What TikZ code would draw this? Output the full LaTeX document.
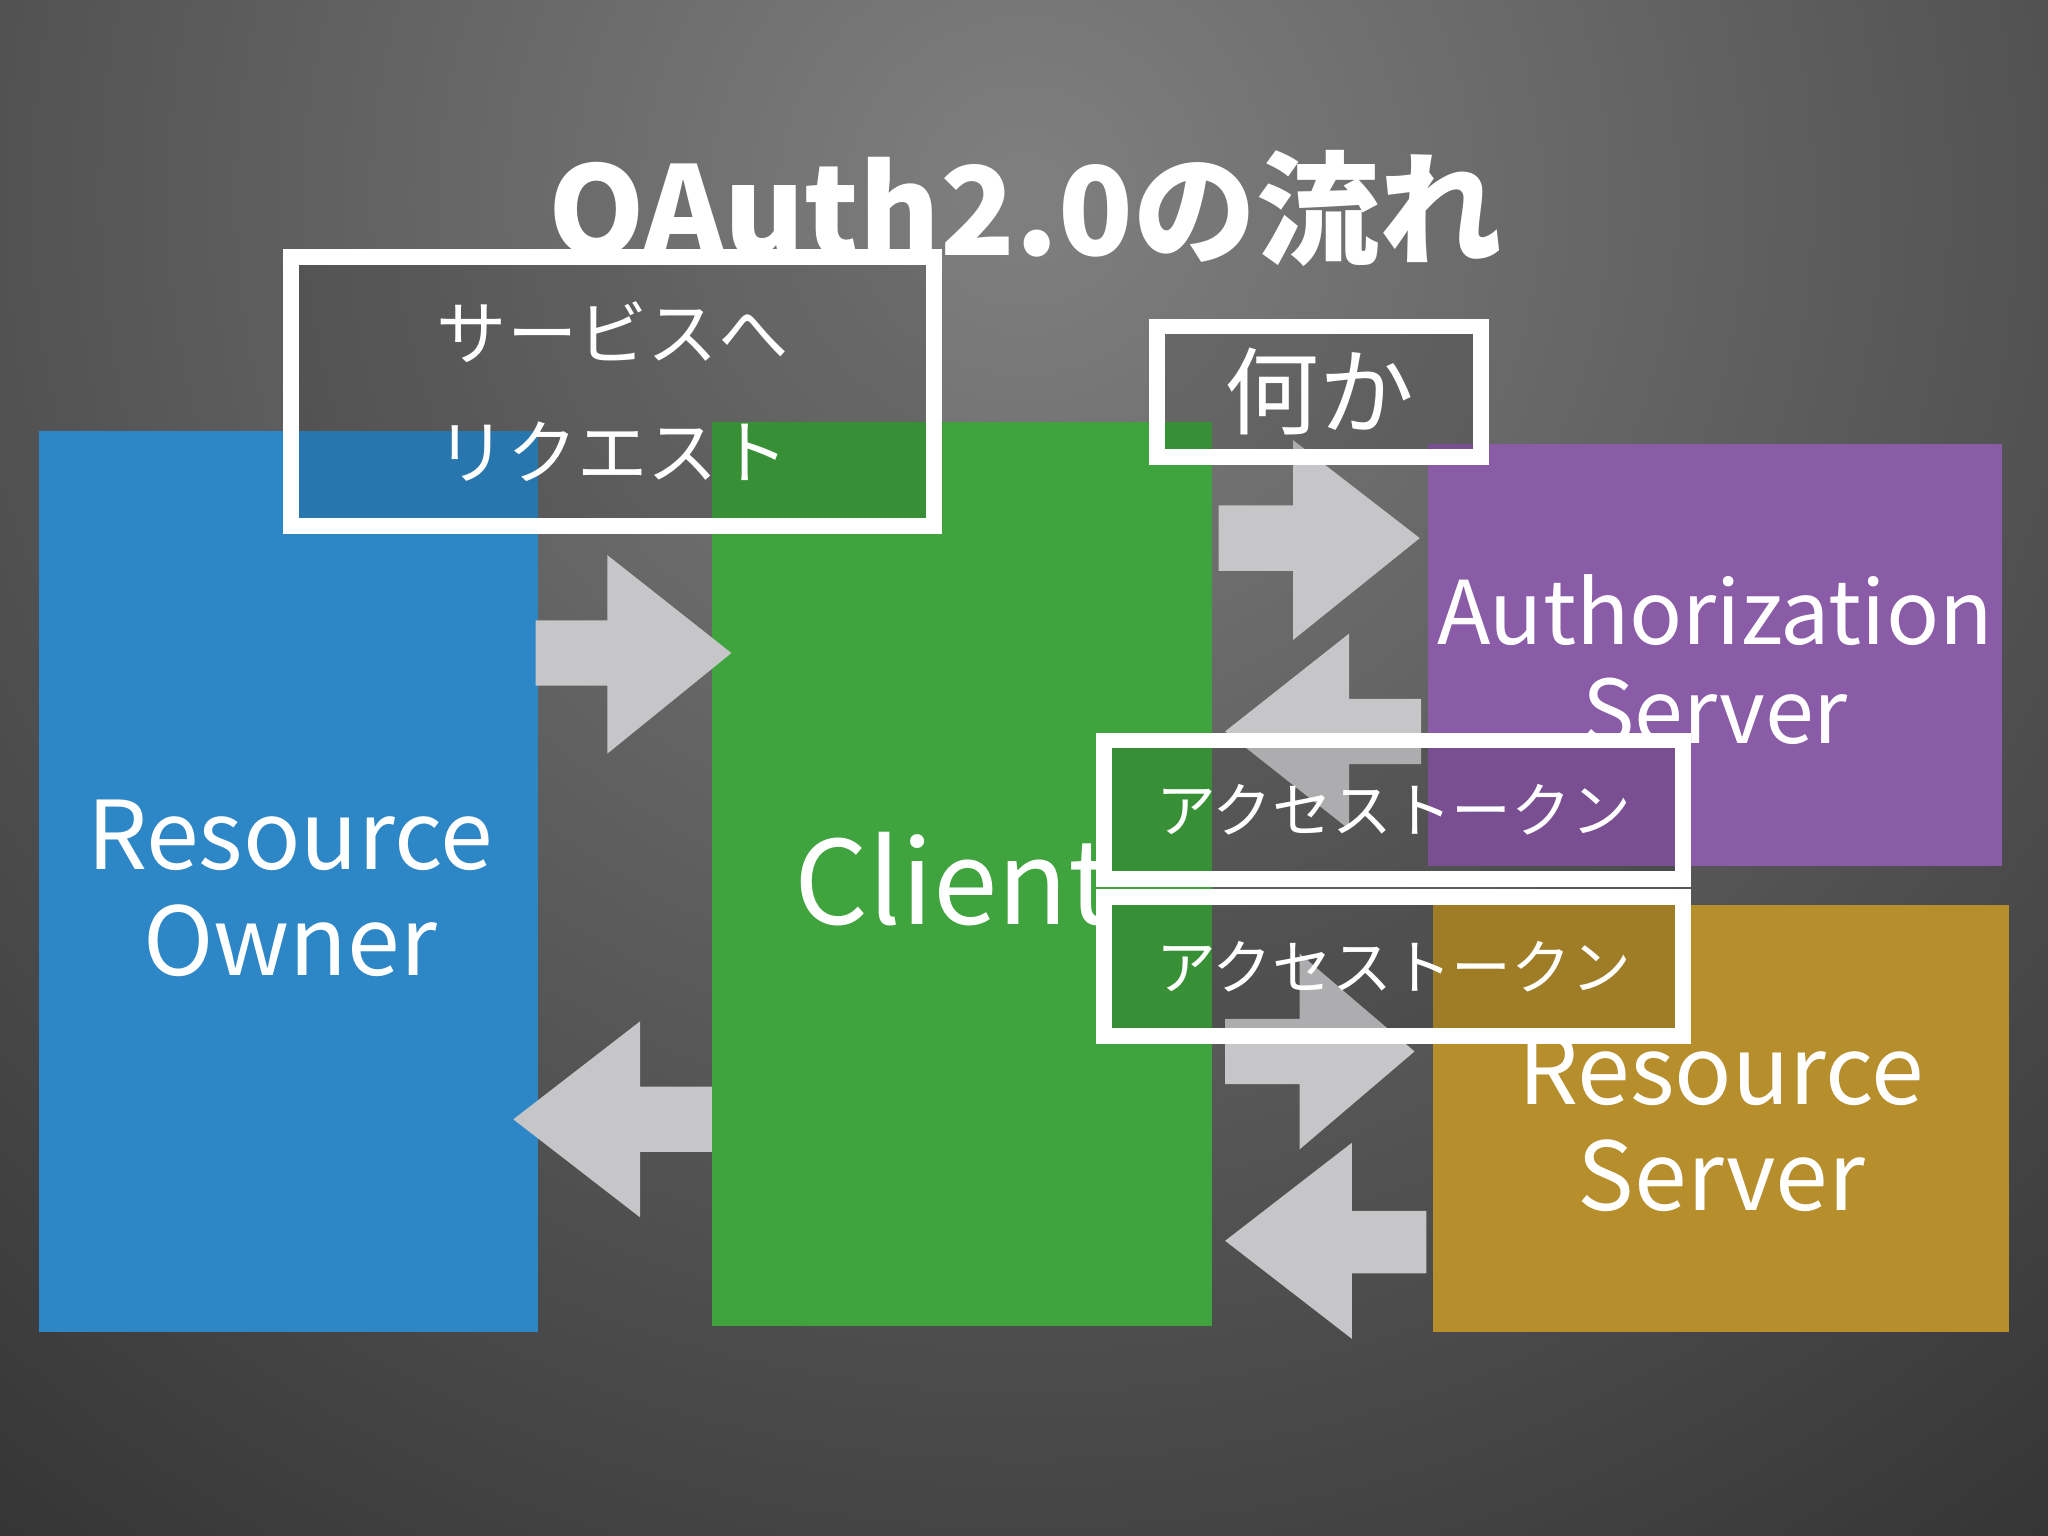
\documentclass[tikz,border=0pt]{standalone}
\usepackage{fontspec}
\setmainfont{Noto Sans CJK JP}
\definecolor{ro}{HTML}{2D87C6}
\definecolor{cl}{HTML}{3FA33E}
\definecolor{as}{HTML}{8A5BA6}
\definecolor{rs}{HTML}{B68E2C}
\definecolor{ar}{HTML}{C6C6C8}
\begin{document}
\begin{tikzpicture}[x=0.013061cm,y=-0.013061cm,
  lbl/.style={text=white,align=center,font=\fontsize{27}{31}\selectfont},
  arr/.style={fill=ar,draw=none},
  frame/.style={draw=white,line width=4.5pt,fill=black,fill opacity=0.12,text opacity=1}]
\useasboundingbox (0,0) rectangle (1568,1176);
\shade[shading=radial,inner color=black!50,outer color=black!84] (784-1500,150-1500) rectangle (784+1500,150+1500);
\node[text=white,font=\fontsize{35}{40}\selectfont\bfseries] (title) at (785,160) {OAuth2.0の流れ};
\fill[ro] (30,330) rectangle (412,1020);
\fill[cl] (545,323) rectangle (928,1015);
\fill[as] (1093,340) rectangle (1533,663);
\fill[rs] (1097,693) rectangle (1538,1020);
\node[lbl] (ro) at (222,680) {Resource\\[-1pt]Owner};
\node[lbl,font=\fontsize{33}{36}\selectfont] (cli) at (730,673) {Client};
\node[lbl,font=\fontsize{25}{29}\selectfont] (as) at (1313,505) {Authorization\\[-1pt]Server};
\node[lbl] (rs) at (1318,860) {Resource\\[-1pt]Server};
% arrows
\fill[arr] (410,475) -- (465,475) -- (465,425) -- (560,500) -- (465,577) -- (465,525) -- (410,525) -- cycle;
\fill[arr] (545,832) -- (490,832) -- (490,782) -- (393,857) -- (490,932) -- (490,882) -- (545,882) -- cycle;
\fill[arr] (933,387) -- (990,387) -- (990,337) -- (1087,412) -- (990,490) -- (990,437) -- (933,437) -- cycle;
\fill[arr] (1088,535) -- (1033,535) -- (1033,485) -- (938,560) -- (1033,635) -- (1033,585) -- (1088,585) -- cycle;
\fill[arr] (938,780) -- (995,780) -- (995,730) -- (1083,805) -- (995,880) -- (995,830) -- (938,830) -- cycle;
\fill[arr] (1092,927) -- (1035,927) -- (1035,875) -- (938,950) -- (1035,1025) -- (1035,975) -- (1092,975) -- cycle;
% label frames
\node[frame,minimum width=492*0.013061cm,minimum height=206*0.013061cm,align=center,text=white,font=\fontsize{20}{34}\selectfont] (req) at (469,300) {サービスへ\\リクエスト};
\node[frame,minimum width=248*0.013061cm,minimum height=100*0.013061cm,text=white,font=\fontsize{27}{30}\selectfont] (nan) at (1010,300) {何か};
\node[frame,minimum width=443*0.013061cm,minimum height=106*0.013061cm,text=white,font=\fontsize{17}{20}\selectfont] (tk1) at (1067,620) {アクセストークン};
\node[frame,minimum width=443*0.013061cm,minimum height=106*0.013061cm,text=white,font=\fontsize{17}{20}\selectfont] (tk2) at (1067,740) {アクセストークン};
\end{tikzpicture}
\end{document}
